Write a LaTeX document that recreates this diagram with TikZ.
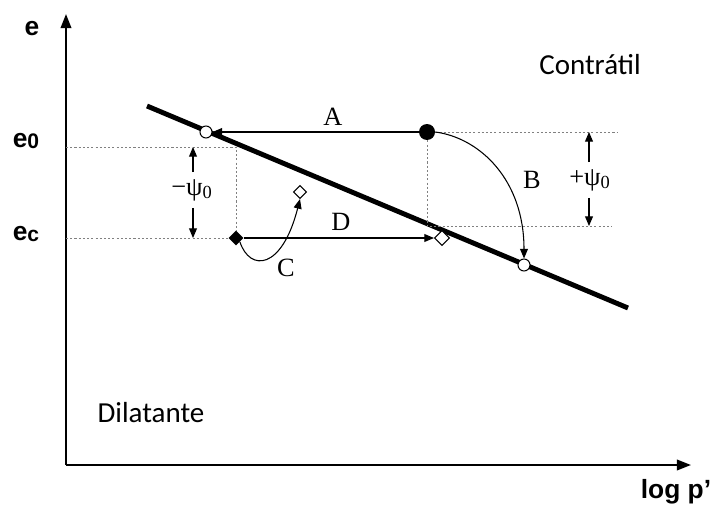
\documentclass[tikz,border=0pt]{standalone}
\usepackage{fontspec}
\setmainfont{Liberation Serif}
\newfontfamily\axisfont{Liberation Sans}
\newfontfamily\regionfont{Carlito}
\usetikzlibrary{arrows.meta,shapes.geometric,positioning}

\begin{document}
\begin{tikzpicture}[x=0.02cm, y=-0.02cm,
  axis/.style={line width=1.1pt, -{Triangle[length=8pt,width=6pt]}},
  csl/.style={line width=2.8pt},
  arr/.style={line width=0.6pt, -{Triangle[length=5.5pt,width=4.5pt]}},
  guide/.style={gray, line width=0.4pt, dash pattern=on 1.2pt off 1.2pt},
  opendot/.style={circle, draw, fill=white, line width=0.6pt, minimum size=0.24cm, inner sep=0pt},
  fulldot/.style={circle, fill=black, minimum size=0.32cm, inner sep=0pt},
  opendia/.style={diamond, draw, fill=white, line width=0.6pt, minimum size=#1, inner sep=0pt},
  fulldia/.style={diamond, fill=black, minimum size=0.3cm, inner sep=0pt},
  axlab/.style={font=\axisfont\bfseries\fontsize{15}{15}\selectfont},
  region/.style={font=\regionfont\fontsize{16.5}{18}\selectfont},
  lab/.style={font=\fontsize{15}{16}\selectfont}
]
\useasboundingbox (0,0) rectangle (713,510);

% axes
\coordinate (origin) at (66,465);
\coordinate (ytip) at (66,14);
\coordinate (xtip) at (691,465);
\draw[axis] (origin) -- (ytip);
\draw[axis] (origin) -- (xtip);
\node[axlab] (elab) at (32,29) {e};
\node[axlab] (logp) at (676,492) {log p’};
\node[axlab] (e0lab) at (26,141) {e{\fontsize{12}{12}\selectfont\raisebox{-0.1ex}{0}}};
\node[axlab] (eclab) at (26,234) {e{\fontsize{12}{12}\selectfont\raisebox{-0.1ex}{c}}};

% regions
\node[region] (contr) at (590,65) {Contrátil};
\node[region] (dilat) at (151,413) {Dilatante};

% critical state line
\coordinate (csla) at (147,106);
\coordinate (cslb) at (628,308);
\draw[csl] (csla) -- (cslb);

% guides
\coordinate (e0axis) at (66,147);
\coordinate (ecaxis) at (66,238);
\coordinate (topr) at (617,132);
\coordinate (midl) at (427,226);
\coordinate (midr) at (612,226);
\node[fulldia] (FD) at (236,238) {};
\node[fulldot] (FC) at (427,132) {};
\draw[guide] (e0axis) -| (FD);
\draw[guide] (ecaxis) -- (FD);
\draw[guide] (FC) -- (topr);
\draw[guide] (FC) -- (midl) -- (midr);

% states
\node[opendot] (O1) at (206,132) {};
\node[opendot] (O2) at (524,265) {};
\node[opendia=0.3cm] (OD) at (442,238) {};
\node[opendia=0.26cm] (OC) at (300,192) {};

% paths
\draw[arr] (FC) -- (O1);
\draw[arr] (FD) -- (OD);
\draw[arr] (FC.east) .. controls (480,138) and (524,180) .. (O2.north);
\draw[arr] (FD.south east) .. controls (250,272) and (282,270) .. (OC.south);
\node[lab] (A) at (333,117) {A};
\node[lab] (B) at (532,180) {B};
\node[lab] (C) at (286,268) {C};
\node[lab] (D) at (341,222) {D};

% state parameter
\node[lab] (psim) at (192,190) {−ψ\textsubscript{0}};
\node[lab] (psip) at (590,180) {+ψ\textsubscript{0}};
\coordinate (psimtop) at (193,147);
\coordinate (psimbot) at (193,238);
\coordinate (psiptop) at (589,132);
\coordinate (psipbot) at (589,226);
\draw[arr] (psim.north -| psimtop) ++(0,-1) -- (psimtop);
\draw[arr] (psim.south -| psimbot) ++(0,1) -- (psimbot);
\draw[arr] (psip.north -| psiptop) ++(0,-1) -- (psiptop);
\draw[arr] (psip.south -| psipbot) ++(0,1) -- (psipbot);

\end{tikzpicture}
\end{document}
